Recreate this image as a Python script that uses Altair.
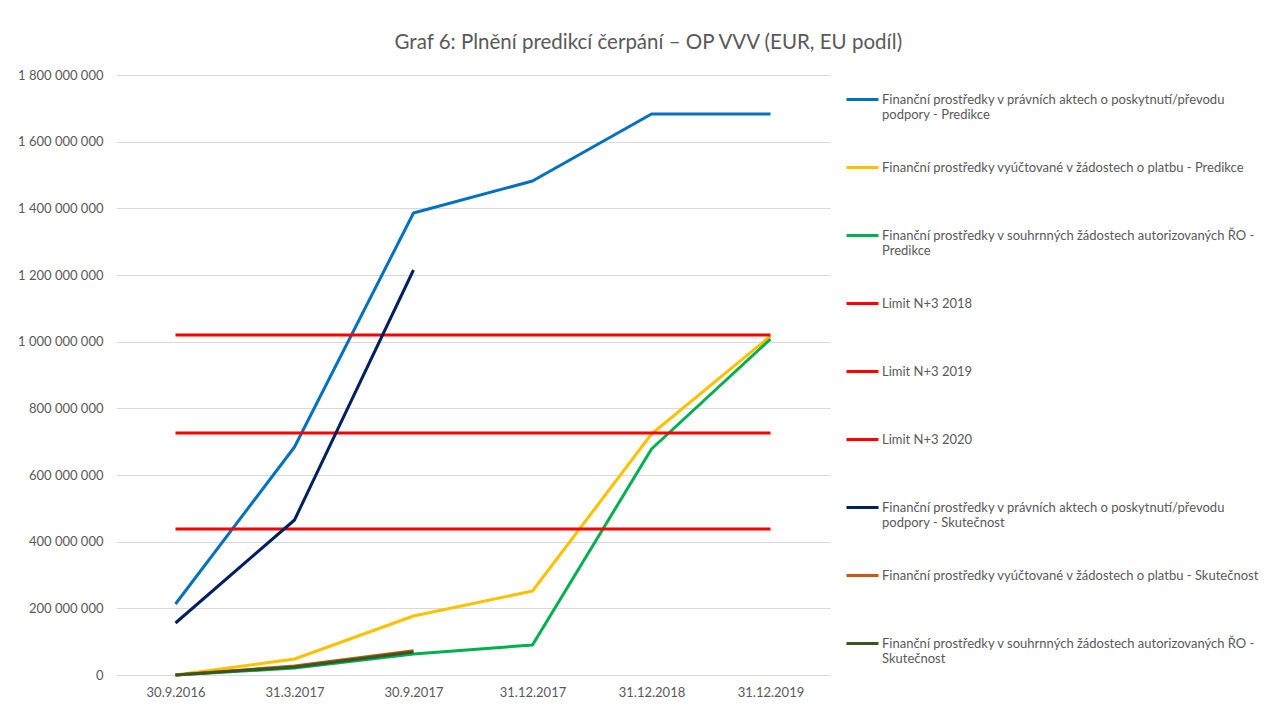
import altair as alt
import pandas as pd

dates = ["30.9.2016", "31.3.2017", "30.9.2017", "31.12.2017", "31.12.2018", "31.12.2019"]

series_names = [
    "Finanční prostředky v právních aktech o poskytnutí/převodu|podpory - Predikce",
    "Finanční prostředky vyúčtované v žádostech o platbu - Predikce| ",
    "Finanční prostředky v souhrnných žádostech autorizovaných ŘO -|Predikce",
    "Limit N+3 2018| ",
    "Limit N+3 2019| ",
    "Limit N+3 2020| ",
    "Finanční prostředky v právních aktech o poskytnutí/převodu|podpory - Skutečnost",
    "Finanční prostředky vyúčtované v žádostech o platbu - Skutečnost| ",
    "Finanční prostředky v souhrnných žádostech autorizovaných ŘO -|Skutečnost",
]
series_colors = ["#0070C0", "#FFC000", "#00B050", "#FF0000", "#FF0000", "#FF0000",
                 "#002060", "#C55A11", "#375623"]

pa_pred = [213e6, 684e6, 1386e6, 1482e6, 1683e6, 1683e6]
zp_pred = [0, 48e6, 177e6, 252e6, 723e6, 1017e6]
szz_pred = [0, 21e6, 63e6, 90e6, 678e6, 1008e6]
limit_2018 = [438e6] * 6
limit_2019 = [726e6] * 6
limit_2020 = [1020e6] * 6
pa_skut = [156e6, 465e6, 1215e6, None, None, None]
zp_skut = [0, 27e6, 73e6, None, None, None]
szz_skut = [0, 24e6, 69e6, None, None, None]

all_values = [pa_pred, zp_pred, szz_pred, limit_2018, limit_2019, limit_2020,
              pa_skut, zp_skut, szz_skut]

rows = []
for i, (name, vals) in enumerate(zip(series_names, all_values)):
    for d, v in zip(dates, vals):
        if v is not None:
            rows.append({"series": name, "date": d, "value": v, "idx": i})
df = pd.DataFrame(rows)

font = "Lato"
grey = "#595959"

legend = alt.Legend(title=None, orient="right", offset=8,
                    symbolType="stroke", symbolSize=1024,
                    symbolStrokeWidth=3, labelFont=font,
                    labelFontSize=13, labelColor=grey, labelLimit=600,
                    labelOffset=2,
                    rowPadding=28, labelBaseline="middle", padding=7,
                    labelExpr="split(datum.label, '|')")

chart = alt.Chart(df).mark_line(strokeWidth=3, strokeJoin="round").encode(
    x=alt.X("date:O", sort=dates, title=None,
            scale=alt.Scale(padding=0.5),
            axis=alt.Axis(labelAngle=0, ticks=False, domain=False, labelPadding=11,
                          labelFont=font, labelFontSize=13, labelColor=grey)),
    y=alt.Y("value:Q", title=None,
            scale=alt.Scale(domain=[0, 1.8e9]),
            axis=alt.Axis(values=[i * 2e8 for i in range(10)], ticks=False, domain=False,
                          labelPadding=13, labelFont=font, labelFontSize=13, labelColor=grey,
                          gridColor="#D9D9D9", gridWidth=1,
                          labelExpr="join(split(format(datum.value, ','), ','), ' ')")),
    color=alt.Color("series:N", sort=series_names,
                    scale=alt.Scale(domain=series_names, range=series_colors),
                    legend=legend),
    detail="idx:O",
).properties(
    width=714, height=600,
    title=alt.TitleParams("Graf 6: Plnění predikcí čerpání – OP VVV (EUR, EU podíl)",
                          font=font, fontSize=20.5, fontWeight="normal", color=grey,
                          anchor="middle", frame="bounds", offset=16, dx=6),
    autosize=alt.AutoSizeParams(type="none"),
    padding={"left": 108, "top": 67, "right": 438, "bottom": 24},
).configure_view(stroke=None)

chart.save("out.html", embed_options={"renderer": "svg", "actions": False})
